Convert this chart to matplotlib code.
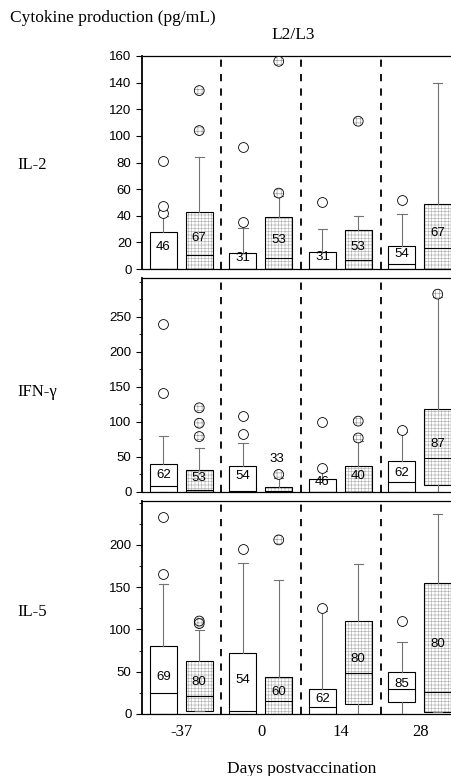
import matplotlib
matplotlib.use('Agg')
import matplotlib.pyplot as plt
from matplotlib.ticker import MultipleLocator

matplotlib.rcParams['hatch.linewidth'] = 0.45

days = ['-37', '0', '14', '28']
cytokines = ['IL-2', 'IFN-γ', 'IL-5']
y_max = [160, 305, 252]
y_major = [list(range(0, 161, 20)), list(range(0, 251, 50)), list(range(0, 201, 50))]
y_minor = [None, 25, 25]

# (q1, median, q3, whisker low, whisker high) per day
il2_plain = [(0, 0, 28, 0, 40), (0, 0, 12, 0, 31), (0, 0, 13, 0, 30), (0, 3.5, 17, 0, 41)]
il2_hatch = [(0, 10.5, 42.5, 0, 84), (0, 8, 39, 0, 55), (0, 7, 29, 0, 40), (0, 15.5, 49, 0, 140)]
ifn_plain = [(0, 8.6, 40.5, 0, 79.5), (0, 2, 37, 0, 70), (0, 0, 18, 0, 30), (0, 14, 44, 0, 85)]
ifn_hatch = [(0, 3, 32, 0, 62), (0, 2, 7, 0, 20), (0, 0, 37, 0, 72), (10, 48, 118, 0, 278)]
il5_plain = [(0, 25, 81, 0, 154), (0, 4, 72, 0, 179), (0, 8, 29, 0, 122), (14, 29, 50, 0, 85)]
il5_hatch = [(4, 21, 63, 4, 99), (0, 15, 44, 0, 158), (12, 48.5, 110, 0, 177), (2, 26, 155, 2, 237)]

il2_plain_out = [[42, 47, 81], [35, 92], [50], [52]]
il2_hatch_out = [[104, 134], [57, 156], [111], []]
ifn_plain_out = [[141, 240], [82, 108], [34, 100], [88]]
ifn_hatch_out = [[79, 98, 120], [25], [77, 101], [282]]
il5_plain_out = [[166, 233], [195], [125], [110]]
il5_hatch_out = [[107, 110], [206], [], []]

il2_n = ([46, 31, 31, 54], [67, 53, 53, 67])
ifn_n = ([62, 54, 46, 62], [53, 33, 40, 87])
il5_n = ([69, 54, 62, 85], [80, 60, 80, 80])

panels = [
    (il2_plain, il2_hatch, il2_plain_out, il2_hatch_out, il2_n),
    (ifn_plain, ifn_hatch, ifn_plain_out, ifn_hatch_out, ifn_n),
    (il5_plain, il5_hatch, il5_plain_out, il5_hatch_out, il5_n),
]

serif = 'Liberation Serif'
sans = 'Liberation Sans'

W, H = 452, 776
fig = plt.figure(figsize=(W / 100, H / 100), dpi=100)

# panel edges in pixels (top, bottom); right side runs past the figure edge
rows = [(56, 269), (278, 492), (501, 714)]
row_label_y = [165, 392, 612]
left_px, right_px = 142, 460

offsets = [-0.23, 0.22]
width = 0.34

for k, (plain, hatch, plain_out, hatch_out, ns) in enumerate(panels):
    top, bot = rows[k]
    ax = fig.add_axes([left_px / W, 1 - bot / H, (right_px - left_px) / W, (bot - top) / H])
    for s, (series, outs) in enumerate([(plain, plain_out), (hatch, hatch_out)]):
        stats = []
        pos = []
        for i, (q1, med, q3, lo, hi) in enumerate(series):
            stats.append(dict(q1=q1, med=med, q3=q3, whislo=lo, whishi=hi, fliers=[]))
            pos.append(i + offsets[s])
        if s == 1:
            ax.bar(pos, [st['q3'] - st['q1'] for st in stats], bottom=[st['q1'] for st in stats],
                   width=width, color='white', edgecolor='0.7', hatch='+++++', linewidth=0, zorder=1)
        ax.bxp(stats, positions=pos, widths=width, patch_artist=True, showfliers=False,
               capwidths=width * 0.35,
               boxprops=dict(facecolor='white' if s == 0 else 'none', edgecolor='black', linewidth=0.8),
               medianprops=dict(color='black', linewidth=0.8),
               whiskerprops=dict(color='0.45', linewidth=0.8),
               capprops=dict(color='0.45', linewidth=0.8),
               zorder=2)
        for i, vals in enumerate(outs):
            if vals:
                xs = [pos[i]] * len(vals)
                if s == 1:
                    ax.scatter(xs, vals, s=50, facecolor='white', edgecolor='0.6',
                               linewidth=0, hatch='++++', zorder=3)
                ax.scatter(xs, vals, s=50, facecolor='white' if s == 0 else 'none',
                           edgecolor='black', linewidth=0.6, zorder=3)
        for i, (q1, med, q3, lo, hi) in enumerate(series):
            if q3 - q1 < 0.05 * y_max[k]:
                ty = hi + 0.09 * y_max[k]
                tx = pos[i] - 0.02
            else:
                ty = (q1 + q3) / 2 + 0.015 * y_max[k]
                tx = pos[i]
            ax.text(tx, ty, str(ns[s][i]), ha='center', va='center', fontsize=9.5,
                    family=sans, zorder=4)

    for xb in [0.5, 1.5, 2.5]:
        ax.axvline(xb, color='black', linestyle=(0, (4, 4)), linewidth=1.3, zorder=0)

    ax.set_xlim(-0.5, 3.5)
    ax.set_yticks(y_major[k])
    if y_minor[k]:
        ax.yaxis.set_minor_locator(MultipleLocator(y_minor[k]))
    ax.set_ylim(0, y_max[k])
    ax.tick_params(axis='y', labelsize=9.5, length=4, width=0.8)
    ax.tick_params(axis='y', which='minor', length=2.5, width=0.6)
    for lab in ax.get_yticklabels():
        lab.set_family(sans)
    ax.set_xticks(range(len(days)))
    if k == 2:
        ax.set_xticklabels(days, fontsize=12, family=serif)
        ax.tick_params(axis='x', length=0, pad=7)
    else:
        ax.set_xticklabels([])
        ax.tick_params(axis='x', length=0)
    for sp in ax.spines.values():
        sp.set_linewidth(0.9)
    ax.spines['left'].set_linewidth(1.3)

    fig.text(17 / W, 1 - row_label_y[k] / H, cytokines[k], fontsize=12,
             family=serif, ha='left', va='center')

fig.text(10 / W, 1 - 18 / H, 'Cytokine production (pg/mL)', fontsize=12.5, family=serif,
         ha='left', va='center')
fig.text(293 / W, 1 - 35 / H, 'L2/L3', fontsize=12.5, family=serif, ha='center', va='center')
fig.text(302 / W, 1 - 769 / H, 'Days postvaccination', fontsize=12.5, family=serif,
         ha='center', va='center')

plt.savefig('out.png', dpi=100)
